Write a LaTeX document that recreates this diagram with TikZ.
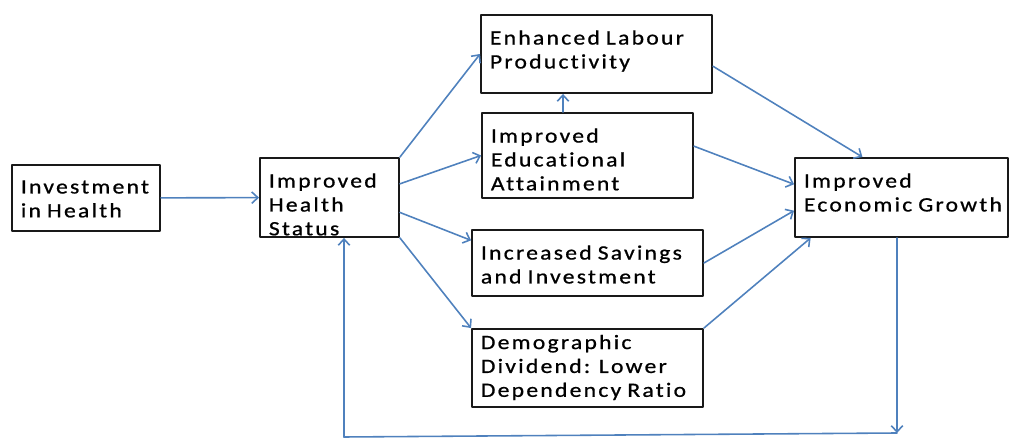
\documentclass[tikz,border=0pt]{standalone}
\usepackage{fontspec}
\setmainfont{Carlito}[LetterSpace=11, WordSpace=0.8, FakeStretch=1.16, FakeBold=0.8, Ligatures=NoCommon]
\usetikzlibrary{arrows.meta}
\definecolor{linkblue}{RGB}{79,129,189}
\begin{document}
\begin{tikzpicture}[x=0.02cm, y=-0.02cm, line cap=round, line join=round, >={Straight Barb[length=3.5pt,width=6.5pt]},
		font=\fontsize{11.6}{13.6}\selectfont,
		box/.style={draw=black!90, line width=1.1pt, inner sep=0pt},
		txt/.style={anchor=north west, align=left, inner xsep=0.19cm, inner ysep=0.32cm},
		link/.style={draw=linkblue, line width=0.9pt}]
	\useasboundingbox (0,0) rectangle (1014,438);
	% boxes, text hung from the upper left corner
	\node[box, minimum width=2.96cm, minimum height=1.32cm, label={[txt]north west:Investment\\in Health}] (inv) at (86,198) {};
	\node[box, minimum width=2.78cm, minimum height=1.58cm, label={[txt]north west:Improved\\Health\\Status}] (hs) at (329.5,197.5) {};
	\node[box, minimum width=4.62cm, minimum height=1.56cm, label={[txt]north west:Enhanced Labour\\Productivity}] (elp) at (596.5,54) {};
	\node[box, minimum width=4.22cm, minimum height=1.70cm, label={[txt]north west:Improved\\Educational\\Attainment}] (iea) at (587.5,155.5) {};
	\node[box, minimum width=4.62cm, minimum height=1.32cm, label={[txt]north west:Increased Savings\\and Investment}] (isi) at (587.5,263) {};
	\node[box, minimum width=4.62cm, minimum height=1.56cm, label={[txt, inner ysep=0.13cm]north west:Demographic\\Dividend: Lower\\Dependency Ratio}] (dd) at (587.5,368) {};
	\node[box, minimum width=4.26cm, minimum height=1.58cm, label={[txt]north west:Improved\\Economic Growth}] (ieg) at (901.5,197.5) {};
	% links
	\draw[link,->] (inv) -- (hs);
	\draw[link,->] (hs.north east) -- (elp.west);
	\draw[link,->] (hs.11) -- (iea.west);
	\draw[link,->] (hs.-12) -- (isi.169);
	\draw[link,->] (hs.south east) -- (dd.north west);
	\draw[link,->] ([xshift=-0.49cm]iea.north) -- ([xshift=-0.49cm]iea.north |- elp.south);
	\draw[link,->] (elp.-6) -- (ieg.134);
	\draw[link,->] (iea.5) -- (ieg.173);
	\draw[link,->] (isi.east) -- (ieg.187);
	\draw[link,->] (dd.north east) -- (ieg.204);
	% feedback to health status
	\coordinate (br) at (897,433);
	\coordinate (bl) at (344,437);
	\draw[link,->] (br |- ieg.south) -- (br);
	\draw[link] (br) -- (bl);
	\draw[link,->] (bl) -- (bl |- hs.south);
\end{tikzpicture}
\end{document}
